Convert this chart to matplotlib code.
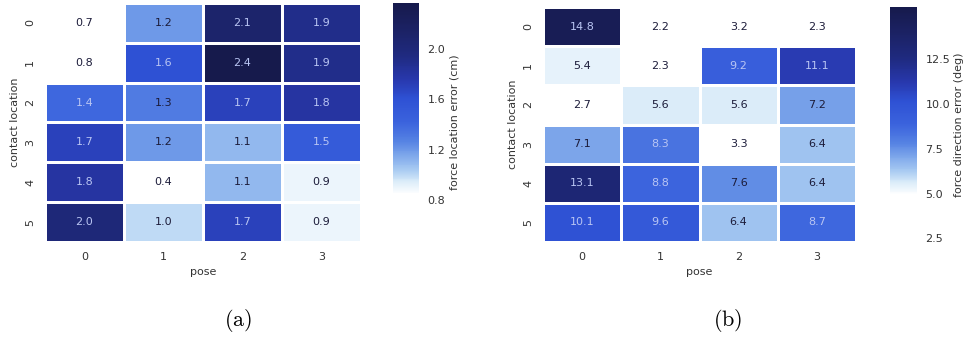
import numpy as np
import matplotlib
matplotlib.use("Agg")
import matplotlib.pyplot as plt
from matplotlib.colors import LinearSegmentedColormap, Normalize

# Mean errors per contact location (rows) and pose (columns)
poses = ["0", "1", "2", "3"]
contact_locations = ["0", "1", "2", "3", "4", "5"]

location_error_cm = [
    [0.7, 1.2, 2.1, 1.9],
    [0.8, 1.6, 2.4, 1.9],
    [1.4, 1.3, 1.7, 1.8],
    [1.7, 1.2, 1.1, 1.5],
    [1.8, 0.4, 1.1, 0.9],
    [2.0, 1.0, 1.7, 0.9],
]

direction_error_deg = [
    [14.8, 2.2, 3.2, 2.3],
    [5.4, 2.3, 9.2, 11.1],
    [2.7, 5.6, 5.6, 7.2],
    [7.1, 8.3, 3.3, 6.4],
    [13.1, 8.8, 7.6, 6.4],
    [10.1, 9.6, 6.4, 8.7],
]

location_ticks = [0.8, 1.2, 1.6, 2.0]
direction_ticks = [2.5, 5.0, 7.5, 10.0, 12.5]

# White-to-navy colour map with a flat white low end
cmap = LinearSegmentedColormap.from_list(
    "white_blue",
    [(0.00, "#ffffff"), (0.20, "#ffffff"), (0.25, "#dcedf9"),
     (0.30, "#a9cbf2"), (0.36, "#7fa8eb"), (0.42, "#5683e3"),
     (0.50, "#3b63dd"), (0.60, "#2e51d4"), (0.68, "#2838ad"),
     (0.78, "#1f2a80"), (0.90, "#1b2162"), (1.00, "#161a4c")])

plt.rcParams["font.family"] = "DejaVu Sans"
fig = plt.figure(figsize=(9.64, 3.39), dpi=100)

W, H = 964.0, 339.0


def box(x0, x1, y0, y1):
    return [x0 / W, 1 - y1 / H, (x1 - x0) / W, (y1 - y0) / H]


def heatmap(ax, cax, data, vmin, vmax, ticks, label):
    data = np.array(data)
    norm = Normalize(vmin=vmin, vmax=vmax)
    mesh = ax.pcolormesh(data, cmap=cmap, norm=norm,
                         edgecolor="white", linewidth=1.0)
    ax.set_xlim(0, data.shape[1])
    ax.set_ylim(data.shape[0], 0)
    for r in range(data.shape[0]):
        for c in range(data.shape[1]):
            color = "#1c1c3a" if norm(data[r, c]) < 0.45 else "#b9c5f3"
            ax.text(c + 0.5, r + 0.5, f"{data[r, c]:.1f}", ha="center",
                    va="center", fontsize=8, color=color)
    ax.set_xticks(np.arange(data.shape[1]) + 0.5)
    ax.set_xticklabels(poses, fontsize=8, color="#333333")
    ax.set_yticks(np.arange(data.shape[0]) + 0.5)
    ax.set_yticklabels(contact_locations, fontsize=8, rotation=90,
                       va="center", color="#333333")
    ax.tick_params(length=0, pad=7)
    ax.set_xlabel("pose", fontsize=8, color="#333333", labelpad=4)
    ax.set_ylabel("contact location", fontsize=8, color="#333333", labelpad=4)
    for s in ax.spines.values():
        s.set_visible(False)

    cb = fig.colorbar(mesh, cax=cax)
    cb.outline.set_visible(False)
    cb.set_ticks(ticks)
    cb.ax.tick_params(length=0, pad=6, labelsize=8, labelcolor="#333333")
    cb.set_label(label, fontsize=8, color="#333333", labelpad=3)


ax1 = fig.add_axes(box(45, 361, 3, 242))
cax1 = fig.add_axes(box(393, 419, 3, 242))
heatmap(ax1, cax1, location_error_cm, 0.47, 2.36, location_ticks,
        "force location error (cm)")

ax2 = fig.add_axes(box(543, 856, 7, 242))
cax2 = fig.add_axes(box(890, 917, 7, 242))
heatmap(ax2, cax2, direction_error_deg, 2.3, 15.4, direction_ticks,
        "force direction error (deg)")

plt.rcParams["mathtext.fontset"] = "cm"
fig.text(238 / W, 1 - 320 / H, r"$\mathrm{(a)}$", fontsize=16,
         ha="center", va="center")
fig.text(728 / W, 1 - 320 / H, r"$\mathrm{(b)}$", fontsize=16,
         ha="center", va="center")

fig.savefig("out.png", dpi=100)
